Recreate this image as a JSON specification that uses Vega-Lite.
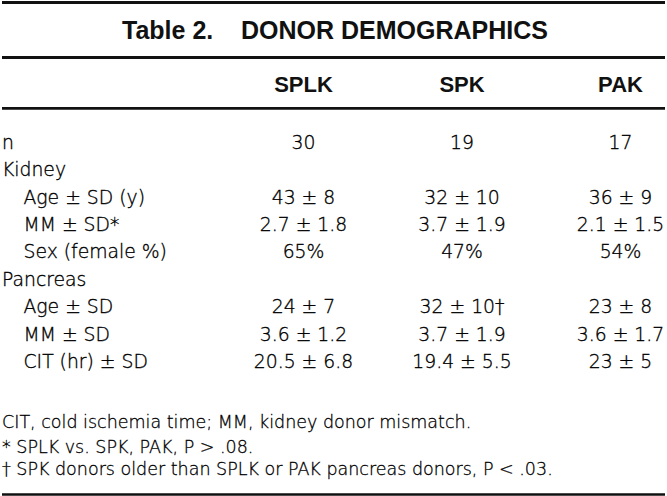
{
  "$schema": "https://vega.github.io/schema/vega-lite/v6.json",
  "width": 667,
  "height": 496,
  "autosize": {"type": "fit", "contains": "padding"},
  "padding": 0,
  "background": "white",
  "config": {"view": {"stroke": null}},
  "datasets": {
    "rules": [
      {"row": -5.109, "weight": "top"},
      {"row": -3.102, "weight": "mid"},
      {"row": -1.2545, "weight": "thin"},
      {"row": 12.82, "weight": "bottom"}
    ],
    "title": [{"row": -4.07, "text": "Table 2.\u00a0\u00a0\u00a0\u00a0DONOR DEMOGRAPHICS"}],
    "headers": [
      {"row": -2.11, "group": "SPLK"},
      {"row": -2.11, "group": "SPK"},
      {"row": -2.11, "group": "PAK"}
    ],
    "labels": [
      {"row": 0, "label": "n", "level": 0},
      {"row": 1, "label": "Kidney", "level": 0},
      {"row": 2, "label": "Age ± SD (y)", "level": 1},
      {"row": 3, "label": "MM ± SD*", "level": 1},
      {"row": 4, "label": "Sex (female %)", "level": 1},
      {"row": 5, "label": "Pancreas", "level": 0},
      {"row": 6, "label": "Age ± SD", "level": 1},
      {"row": 7, "label": "MM ± SD", "level": 1},
      {"row": 8, "label": "CIT (hr) ± SD", "level": 1}
    ],
    "cells": [
      {"row": 0, "group": "SPLK", "value": "30"},
      {"row": 0, "group": "SPK", "value": "19"},
      {"row": 0, "group": "PAK", "value": "17"},
      {"row": 2, "group": "SPLK", "value": "43 ± 8"},
      {"row": 2, "group": "SPK", "value": "32 ± 10"},
      {"row": 2, "group": "PAK", "value": "36 ± 9"},
      {"row": 3, "group": "SPLK", "value": "2.7 ± 1.8"},
      {"row": 3, "group": "SPK", "value": "3.7 ± 1.9"},
      {"row": 3, "group": "PAK", "value": "2.1 ± 1.5"},
      {"row": 4, "group": "SPLK", "value": "65%"},
      {"row": 4, "group": "SPK", "value": "47%"},
      {"row": 4, "group": "PAK", "value": "54%"},
      {"row": 6, "group": "SPLK", "value": "24 ± 7"},
      {"row": 6, "group": "SPK", "value": "32 ± 10†"},
      {"row": 6, "group": "PAK", "value": "23 ± 8"},
      {"row": 7, "group": "SPLK", "value": "3.6 ± 1.2"},
      {"row": 7, "group": "SPK", "value": "3.7 ± 1.9"},
      {"row": 7, "group": "PAK", "value": "3.6 ± 1.7"},
      {"row": 8, "group": "SPLK", "value": "20.5 ± 6.8"},
      {"row": 8, "group": "SPK", "value": "19.4 ± 5.5"},
      {"row": 8, "group": "PAK", "value": "23 ± 5"}
    ],
    "notes": [
      {"row": 10.22, "text": "CIT, cold ischemia time; MM, kidney donor mismatch."},
      {"row": 11.12, "text": "* SPLK vs. SPK, PAK, P > .08."},
      {"row": 11.93, "text": "† SPK donors older than SPLK or PAK pancreas donors, P < .03."}
    ]
  },
  "layer": [
    {
      "data": {"name": "rules"},
      "mark": {"type": "rule", "color": "#111"},
      "encoding": {
        "y": {"field": "row", "type": "quantitative", "axis": null,
              "scale": {"domain": [-5.1636, 12.8727], "reverse": true, "nice": false, "zero": false}},
        "strokeWidth": {"field": "weight", "type": "nominal", "legend": null,
              "scale": {"domain": ["top", "mid", "thin", "bottom"], "range": [3.2, 2.6, 1.7, 4]}}
      }
    },
    {
      "data": {"name": "title"},
      "mark": {"type": "text", "font": "Liberation Sans", "fontWeight": "bold", "fontSize": 25, "align": "center", "baseline": "middle", "color": "#111"},
      "encoding": {
        "x": {"value": 333},
        "y": {"field": "row", "type": "quantitative", "axis": null,
              "scale": {"domain": [-5.1636, 12.8727], "reverse": true, "nice": false, "zero": false}},
        "text": {"field": "text"}
      }
    },
    {
      "data": {"name": "headers"},
      "mark": {"type": "text", "font": "Liberation Sans", "fontWeight": "bold", "fontSize": 22, "align": "center", "baseline": "middle", "color": "#111"},
      "encoding": {
        "x": {"field": "group", "type": "nominal", "axis": null, "sort": null,
              "scale": {"type": "point", "domain": ["SPLK", "SPK", "PAK"], "range": [301.5, 618.5], "padding": 0}},
        "y": {"field": "row", "type": "quantitative", "axis": null,
              "scale": {"domain": [-5.1636, 12.8727], "reverse": true, "nice": false, "zero": false}},
        "text": {"field": "group"}
      }
    },
    {
      "data": {"name": "cells"},
      "mark": {"type": "text", "font": "DejaVu Sans", "fontWeight": 200, "fontSize": 18.8, "align": "center", "baseline": "middle", "fill": "#000", "stroke": "#000", "strokeWidth": 0.35},
      "encoding": {
        "x": {"field": "group", "type": "nominal", "axis": null, "sort": null,
              "scale": {"type": "point", "domain": ["SPLK", "SPK", "PAK"], "range": [301.5, 618.5], "padding": 0}},
        "y": {"field": "row", "type": "quantitative", "axis": null,
              "scale": {"domain": [-5.1636, 12.8727], "reverse": true, "nice": false, "zero": false}},
        "text": {"field": "value"}
      }
    },
    {
      "data": {"name": "labels"},
      "transform": [{"filter": "datum.level == 0"}],
      "mark": {"type": "text", "font": "DejaVu Sans", "fontWeight": 200, "fontSize": 18.8, "align": "left", "baseline": "middle", "fill": "#000", "stroke": "#000", "strokeWidth": 0.35},
      "encoding": {
        "x": {"value": 0},
        "y": {"field": "row", "type": "quantitative", "axis": null,
              "scale": {"domain": [-5.1636, 12.8727], "reverse": true, "nice": false, "zero": false}},
        "text": {"field": "label"}
      }
    },
    {
      "data": {"name": "labels"},
      "transform": [{"filter": "datum.level == 1"}],
      "mark": {"type": "text", "font": "DejaVu Sans", "fontWeight": 200, "fontSize": 18.8, "align": "left", "baseline": "middle", "fill": "#000", "stroke": "#000", "strokeWidth": 0.35},
      "encoding": {
        "x": {"value": 21.5},
        "y": {"field": "row", "type": "quantitative", "axis": null,
              "scale": {"domain": [-5.1636, 12.8727], "reverse": true, "nice": false, "zero": false}},
        "text": {"field": "label"}
      }
    },
    {
      "data": {"name": "notes"},
      "mark": {"type": "text", "font": "DejaVu Sans", "fontWeight": 200, "fontSize": 17.5, "align": "left", "baseline": "middle", "fill": "#000", "stroke": "#000", "strokeWidth": 0.3},
      "encoding": {
        "x": {"value": 0},
        "y": {"field": "row", "type": "quantitative", "axis": null,
              "scale": {"domain": [-5.1636, 12.8727], "reverse": true, "nice": false, "zero": false}},
        "text": {"field": "text"}
      }
    }
  ]
}
